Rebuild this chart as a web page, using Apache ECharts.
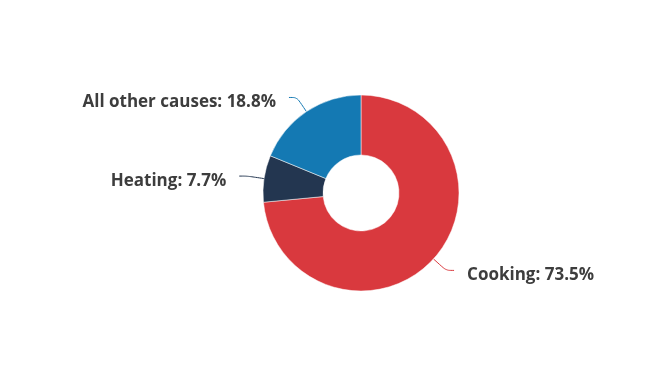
<!DOCTYPE html>
<html><head><meta charset="utf-8">
<script src="https://cdn.jsdelivr.net/npm/echarts@6/dist/echarts.min.js"></script>
<style>html,body{margin:0;padding:0;background:#fff}#c{width:668px;height:376px}</style>
</head><body><div id="c"></div>
<script>
var categories = ["Cooking", "Heating", "All other causes"];
var values = [73.5, 7.7, 18.8];
var colors = ["#d9393e", "#233650", "#1479b3"];
var chart = echarts.init(document.getElementById('c'), null, {renderer: 'canvas'});
chart.setOption({
  animation: false,
  series: [{
    type: 'pie',
    center: [361, 193],
    radius: [38, 98],
    startAngle: 90,
    clockwise: true,
    avoidLabelOverlap: false,
    data: categories.map(function (c, i) { return {name: c, value: values[i], itemStyle: {color: colors[i]}}; }),
    label: {
      formatter: function (p) { return p.name + ': ' + p.value + '%'; },
      color: '#3d3d3d',
      fontFamily: 'Open Sans',
      fontWeight: 'bold',
      fontSize: 17,
      distanceToLabelLine: 13
    },
    labelLayout: function () { return { dy: 5 }; },
    labelLine: { length: 17, length2: 8, smooth: true, lineStyle: {width: 1} },
    itemStyle: { borderColor: '#ffffff', borderWidth: 0.5 }
  }]
});
</script></body></html>
